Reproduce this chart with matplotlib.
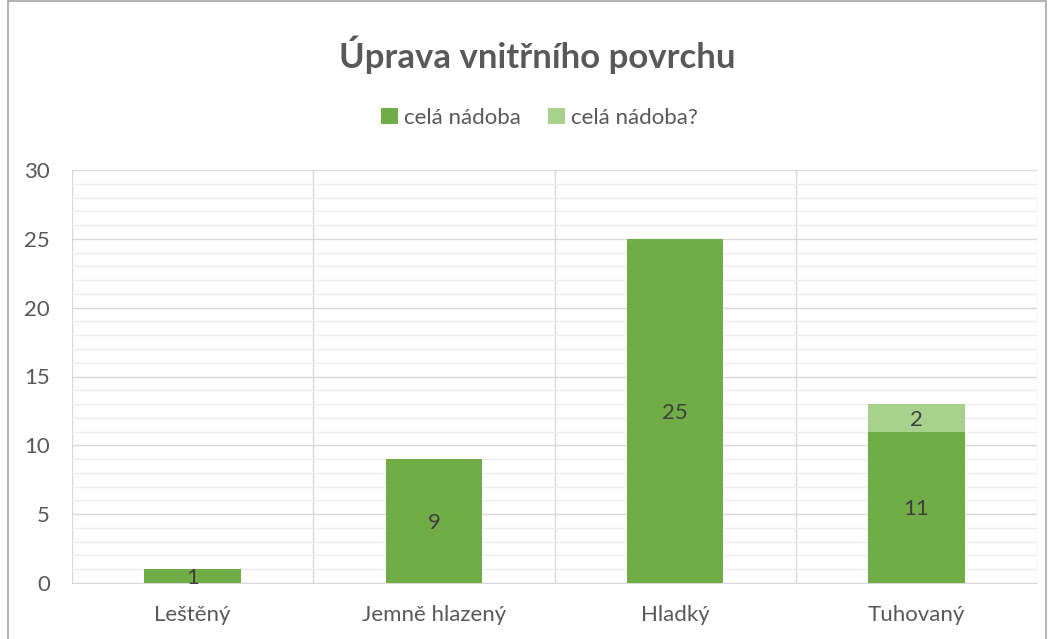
import matplotlib
matplotlib.use("Agg")
import matplotlib.pyplot as plt
from matplotlib.patches import Rectangle
import numpy as np

categories = ["Leštěný", "Jemně hlazený", "Hladký", "Tuhovaný"]
series1_name = "celá nádoba"
series2_name = "celá nádoba?"
series1 = [1, 9, 25, 11]
series2 = [0, 0, 0, 2]
title = "Úprava vnitřního povrchu"

plt.rcParams['font.family'] = ['Lato', 'DejaVu Sans']
txt = '#595959'
c1 = '#70AD47'
c2 = '#A9D18E'

fig = plt.figure(figsize=(10.54, 6.39), dpi=100)
ax = fig.add_axes([72/1054, 1-583/639, (1037-72)/1054, (583-170)/639])

x = np.arange(len(categories))
w = 0.4
b1 = ax.bar(x, series1, w, color=c1, label=series1_name, zorder=3)
b2 = ax.bar(x, series2, w, bottom=series1, color=c2, label=series2_name, zorder=3)

for i, v in enumerate(series1):
    if v:
        ax.text(x[i], v/2, str(v), ha='center', va='center_baseline', fontsize=16, color='#404040', zorder=4)
for i, v in enumerate(series2):
    if v:
        ax.text(x[i], series1[i] + v/2, str(v), ha='center', va='center_baseline', fontsize=16, color='#404040', zorder=4)

ax.set_xlim(-0.5, len(categories)-0.5)
ax.set_ylim(0, 30)
ax.set_yticks(np.arange(0, 31, 5))
ax.set_yticks(np.arange(0, 31, 1), minor=True)
ax.grid(axis='y', which='minor', color='#EDEDED', lw=1, zorder=0)
ax.grid(axis='y', which='major', color='#D9D9D9', lw=1, zorder=1)
for b in np.arange(-0.5, len(categories), 1):
    ax.axvline(b, color='#D9D9D9', lw=1, zorder=1)
ax.set_xticks(x)
ax.set_xticklabels(categories)
ax.tick_params(axis='both', which='both', length=0, colors=txt, labelsize=16)
ax.tick_params(axis='y', pad=16)
ax.tick_params(axis='x', pad=16)
for s in ax.spines.values():
    s.set_visible(False)
ax.spines['bottom'].set_visible(True)
ax.spines['bottom'].set_color('#D9D9D9')

fig.text(0.51, 1-55/639, title, ha='center', va='center', fontsize=25, fontweight='bold', color=txt)
leg = fig.legend(handles=[b1, b2], loc='center', bbox_to_anchor=(0.512, 1-118/639), ncol=2,
                 frameon=False, fontsize=16, handlelength=0.75, handleheight=0.75,
                 handletextpad=0.3, columnspacing=1.2, labelcolor=txt)

fig.patches.append(Rectangle((8/1054, -0.01), (1046-8)/1054, 1.01 - 1/639, transform=fig.transFigure,
                             fill=False, edgecolor='#A6A6A6', lw=1.2))
fig.savefig('out.png', dpi=100, facecolor='white')
